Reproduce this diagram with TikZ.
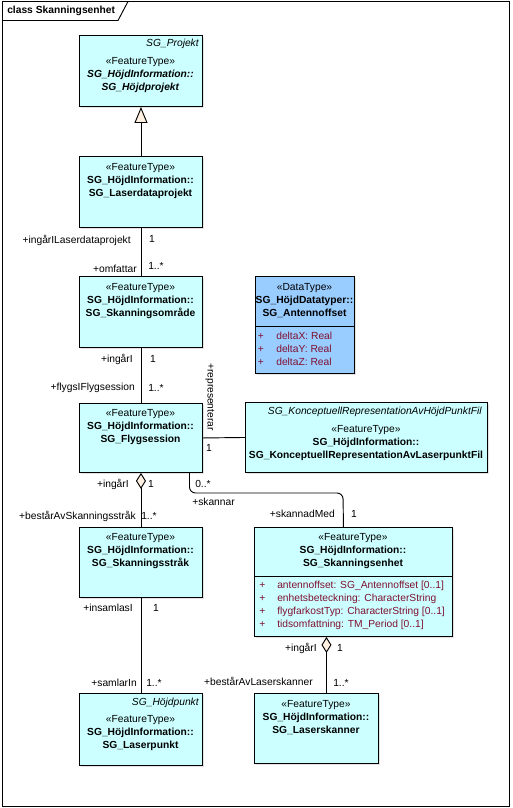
\documentclass[tikz,border=0pt]{standalone}
\usepackage{fontspec}
\setmainfont{Liberation Sans}
\usetikzlibrary{arrows.meta,shadows}

\definecolor{klassfarg}{RGB}{204,255,255}
\definecolor{datafarg}{RGB}{153,204,255}
\definecolor{attrfarg}{RGB}{128,16,48}
\definecolor{spetsfarg}{RGB}{255,240,225}

\tikzset{
	klass/.style={draw, line width=0.7pt, fill=klassfarg, anchor=north west, inner sep=0pt,
		drop shadow={shadow xshift=1.2pt, shadow yshift=-1.2pt, fill=black!22}},
	storlek/.style 2 args={minimum width=#1*0.75pt, minimum height=#2*0.75pt},
	rubrik/.style={font=\fontsize{7.7}{9.75}\selectfont, align=center, inner sep=0pt},
	abstrakt/.style={font=\fontsize{7.7}{9.75}\selectfont\itshape, anchor=east, inner sep=0pt},
	attr/.style={font=\fontsize{7.7}{9.75}\selectfont, text=attrfarg, align=left, anchor=west, inner sep=0pt},
	roll/.style={font=\fontsize{7.7}{9.75}\selectfont, inner sep=0pt},
	forb/.style={line width=0.7pt},
	aggr/.style={forb, {Diamond[fill=spetsfarg, length=12pt, width=7.5pt]}-},
	arv/.style={forb, -{Triangle[fill=spetsfarg, length=12pt, width=9.75pt]}}
}

\begin{document}
\begin{tikzpicture}[x=0.75pt, y=-0.75pt]
	\useasboundingbox (0,0) rectangle (512,808);
	
	% Ram med flik
	\draw[line width=0.7pt] (2.5,1.5) rectangle (509.5,806.5);
	\draw[line width=0.7pt] (2.5,20.5) -- (118,20.5) -- (128,1.5);
	\node[roll, font=\fontsize{7.7}{9.75}\selectfont\bfseries, anchor=west] (ramtitel) at (7,11) {class Skanningsenhet};
	
	% Klasser
	\node[klass, storlek={123}{71}] (hojdprojekt) at (79,35) {};
	\node[abstrakt] (hojdprojekt-abs) at (199,44) {SG\_Projekt};
	\node[rubrik] (hojdprojekt-txt) at (140.5,75) {«FeatureType»\\\textbf{\textit{SG\_HöjdInformation::}}\\\textbf{\textit{SG\_Höjdprojekt}}};
	
	\node[klass, storlek={123}{71}] (laserdata) at (79,156) {};
	\node[rubrik] (laserdata-txt) at (140.5,181) {«FeatureType»\\\textbf{SG\_HöjdInformation::}\\\textbf{SG\_Laserdataprojekt}};
	
	\node[klass, storlek={123}{71}] (omrade) at (79,276) {};
	\node[rubrik] (omrade-txt) at (140.5,301) {«FeatureType»\\\textbf{SG\_HöjdInformation::}\\\textbf{SG\_Skanningsområde}};
	
	\node[klass, storlek={99}{97}, fill=datafarg] (antenn) at (255,276) {};
	\node[rubrik] (antenn-txt) at (304.5,301) {«DataType»\\\textbf{SG\_HöjdDatatyper::}\\\textbf{SG\_Antennoffset}};
	\draw[line width=0.7pt] ([yshift=-37.5pt]antenn.north west) -- ([yshift=-37.5pt]antenn.north east);
	\node[attr] (antenn-attr) at (257.5,349) {\makebox[13.9pt][l]{+}deltaX: Real\\\makebox[13.9pt][l]{+}deltaY: Real\\\makebox[13.9pt][l]{+}deltaZ: Real};
	
	\node[klass, storlek={123}{69}] (flygsession) at (79,403) {};
	\node[rubrik] (flygsession-txt) at (140.5,427) {«FeatureType»\\\textbf{SG\_HöjdInformation::}\\\textbf{SG\_Flygsession}};
	
	\node[klass, storlek={242}{70}] (konceptuell) at (245,402) {};
	\node[abstrakt] (konceptuell-abs) at (482,412) {SG\_KonceptuellRepresentationAvHöjdPunktFil};
	\node[rubrik] (konceptuell-txt) at (366,443) {«FeatureType»\\\textbf{SG\_HöjdInformation::}\\\textbf{SG\_KonceptuellRepresentationAvLaserpunktFil}};
	
	\node[klass, storlek={123}{70}] (strak) at (79,527) {};
	\node[rubrik] (strak-txt) at (140.5,551) {«FeatureType»\\\textbf{SG\_HöjdInformation::}\\\textbf{SG\_Skanningsstråk}};
	
	\node[klass, storlek={123}{72}] (laserpunkt) at (79,693) {};
	\node[abstrakt] (laserpunkt-abs) at (199,703) {SG\_Höjdpunkt};
	\node[rubrik] (laserpunkt-txt) at (140.5,733) {«FeatureType»\\\textbf{SG\_HöjdInformation::}\\\textbf{SG\_Laserpunkt}};
	
	\node[klass, storlek={198}{109}] (enhet) at (254,527) {};
	\node[rubrik] (enhet-txt) at (353,551) {«FeatureType»\\\textbf{SG\_HöjdInformation::}\\\textbf{SG\_Skanningsenhet}};
	\draw[line width=0.7pt] ([yshift=-36.75pt]enhet.north west) -- ([yshift=-36.75pt]enhet.north east);
	\node[attr] (enhet-attr) at (259,605.5) {\makebox[13.5pt][l]{+}antennoffset: SG\_Antennoffset [0..1]\\\makebox[13.5pt][l]{+}enhetsbeteckning: CharacterString\\\makebox[13.5pt][l]{+}flygfarkostTyp: CharacterString [0..1]\\\makebox[13.5pt][l]{+}tidsomfattning: TM\_Period [0..1]};
	
	\node[klass, storlek={124}{70}] (skanner) at (254,693) {};
	\node[rubrik] (skanner-txt) at (316,718) {«FeatureType»\\\textbf{SG\_HöjdInformation::}\\\textbf{SG\_Laserskanner}};
	
	% Generalisering
	\draw[arv] (laserdata.north) -- (hojdprojekt.south);
	
	% Associationer
	\draw[forb] (laserdata.south) -- (omrade.north);
	\node[roll, anchor=east] (r-ingarilaser) at (131,240) {+ingårILaserdataprojekt};
	\node[roll] (m-ingarilaser) at (152,239) {1};
	\node[roll, anchor=east] (r-omfattar) at (137,269) {+omfattar};
	\node[roll, anchor=west] (m-omfattar) at (148,266) {1..*};
	
	\draw[forb] (omrade.south) -- (flygsession.north);
	\node[roll, anchor=east] (r-ingari1) at (133,359) {+ingårI};
	\node[roll] (m-ingari1) at (153,359) {1};
	\node[roll, anchor=east] (r-flygsi) at (135,388) {+flygsIFlygsession};
	\node[roll, anchor=west] (m-flygsi) at (148,388) {1..*};
	
	\draw[forb] (flygsession.east) -- (konceptuell.west);
	\node[roll, rotate=-90] (r-representerar) at (210,397) {+representerar};
	\node[roll] (m-representerar) at (209,448) {1};
	
	\draw[aggr] (flygsession.south) -- (strak.north);
	\node[roll, anchor=east] (r-ingari2) at (129,484) {+ingårI};
	\node[roll] (m-ingari2) at (151,484) {1};
	\node[roll, anchor=east] (r-bestarstrak) at (136,516) {+bestårAvSkanningsstråk};
	\node[roll, anchor=west] (m-bestarstrak) at (141,516) {1..*};
	
	\coordinate (skannarhorn) at (343,493);
	\draw[forb, rounded corners=4.5pt] ([xshift=36.4pt]flygsession.south) |- (skannarhorn) -- ([xshift=-7.5pt]enhet.north);
	\node[roll, anchor=west] (m-skannar) at (195,484) {0..*};
	\node[roll, anchor=west] (r-skannar) at (192,502) {+skannar};
	\node[roll, anchor=east] (r-skannadmed) at (335,514) {+skannadMed};
	\node[roll] (m-skannadmed) at (354,514) {1};
	
	\draw[forb] (strak.south) -- (laserpunkt.north);
	\node[roll, anchor=east] (r-insamlasi) at (133,608) {+insamlasI};
	\node[roll] (m-insamlasi) at (156,608) {1};
	\node[roll, anchor=east] (r-samlarin) at (137,683) {+samlarIn};
	\node[roll, anchor=west] (m-samlarin) at (146,683) {1..*};
	
	\coordinate (enhetagg) at ([xshift=-20.25pt]enhet.south);
	\draw[aggr] (enhetagg) -- (enhetagg |- skanner.north);
	\node[roll, anchor=east] (r-ingari3) at (317,648) {+ingårI};
	\node[roll] (m-ingari3) at (340,648) {1};
	\node[roll, anchor=east] (r-bestarskanner) at (313,681) {+bestårAvLaserskanner};
	\node[roll, anchor=west] (m-bestarskanner) at (333,683) {1..*};
\end{tikzpicture}
\end{document}
